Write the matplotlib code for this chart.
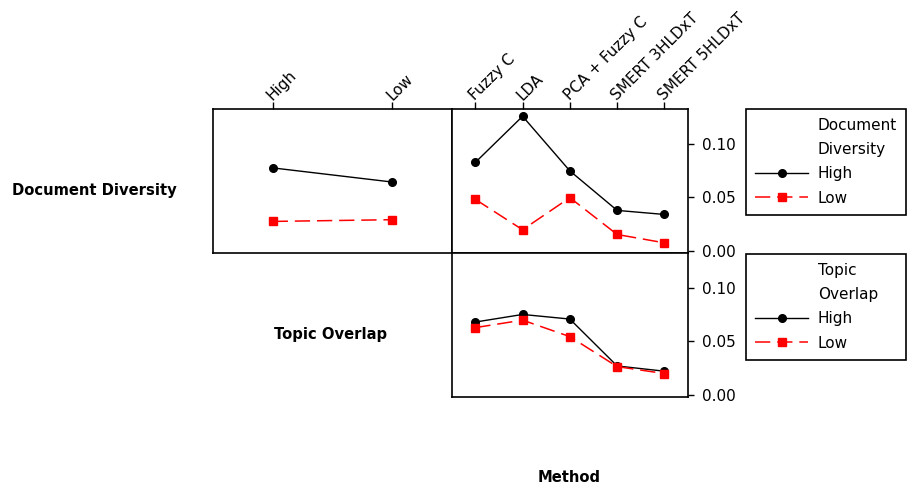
import matplotlib.pyplot as plt
from matplotlib.lines import Line2D

# levels
levels = ["High", "Low"]
methods = ["Fuzzy C", "LDA", "PCA + Fuzzy C", "SMERT 3HLDxT", "SMERT 5HLDxT"]

# top row: lines by Document Diversity
dd_high_vs_level = [0.0775, 0.0643]
dd_low_vs_level = [0.0275, 0.0291]
dd_high_vs_method = [0.0826, 0.1257, 0.0747, 0.0378, 0.0340]
dd_low_vs_method = [0.0481, 0.0197, 0.0497, 0.0153, 0.0075]

# bottom row: lines by Topic Overlap
to_high_vs_method = [0.0680, 0.0751, 0.0708, 0.0270, 0.0221]
to_low_vs_method = [0.0628, 0.0698, 0.0544, 0.0264, 0.0199]

yticks = [0.00, 0.05, 0.10]

W, H = 907, 490
plt.rcParams['font.family'] = ['DejaVu Sans']
plt.rcParams['font.size'] = 11

fig = plt.figure(figsize=(W / 100, H / 100), dpi=100)


def box(x0, y0, x1, y1):
    return [x0 / W, 1 - y1 / H, (x1 - x0) / W, (y1 - y0) / H]


high_style = dict(color="black", lw=1.0, marker="o", ms=5.5, ls="-")
low_style = dict(color="#ff0000", lw=1.1, marker="s", ms=6, ls=(0, (10, 4.5)))

ylim = (-0.002, 0.1325)

ax1 = fig.add_axes(box(213, 109, 451.7, 253))
ax2 = fig.add_axes(box(451.7, 109, 688, 253))
ax3 = fig.add_axes(box(451.7, 253, 688, 397))

ax1.plot(range(len(levels)), dd_high_vs_level, **high_style)
ax1.plot(range(len(levels)), dd_low_vs_level, **low_style)
ax2.plot(range(len(methods)), dd_high_vs_method, **high_style)
ax2.plot(range(len(methods)), dd_low_vs_method, **low_style)
ax3.plot(range(len(methods)), to_high_vs_method, **high_style)
ax3.plot(range(len(methods)), to_low_vs_method, **low_style)

ax1.set_xlim(-0.5, 1.5)
for ax in (ax2, ax3):
    ax.set_xlim(-0.5, 4.5)
for ax in (ax1, ax2, ax3):
    ax.set_ylim(*ylim)
    for s in ax.spines.values():
        s.set_linewidth(1.2)

# top tick labels
ax1.xaxis.tick_top()
ax1.set_xticks(range(len(levels)))
ax1.set_xticklabels(levels, rotation=45, ha="left", va="baseline",
                    rotation_mode="anchor")
ax2.xaxis.tick_top()
ax2.set_xticks(range(len(methods)))
ax2.set_xticklabels(methods, rotation=45, ha="left", va="baseline",
                    rotation_mode="anchor")
for ax in (ax1, ax2):
    ax.tick_params(axis="x", direction="out", length=5, width=1, pad=1)
ax1.set_yticks([])
ax3.set_xticks([])

for ax in (ax2, ax3):
    ax.yaxis.tick_right()
    ax.set_yticks(yticks)
    ax.set_yticklabels(["%.2f" % v for v in yticks])
    ax.tick_params(axis="y", direction="out", length=4, width=1, pad=6)

# legends
blank = Line2D([], [], color="none")
h = Line2D([], [], **high_style)
l = Line2D([], [], **low_style)
leg_kw = dict(loc="upper left", mode="expand", frameon=True, fancybox=False,
              edgecolor="black", framealpha=1, handlelength=3.5,
              handletextpad=0.6, labelspacing=0.6, borderpad=0.59,
              borderaxespad=0)
leg1 = fig.legend([blank, blank, h, l], ["Document", "Diversity", "High", "Low"],
                  bbox_to_anchor=(746 / W, 1 - 109 / H - 0.01, 160 / W, 0.01),
                  **leg_kw)
leg1.get_frame().set_linewidth(1.2)
leg2 = fig.legend([blank, blank, h, l], ["Topic", "Overlap", "High", "Low"],
                  bbox_to_anchor=(746 / W, 1 - 254 / H - 0.01, 160 / W, 0.01),
                  **leg_kw)
leg2.get_frame().set_linewidth(1.2)

# row / column labels
fig.text(12 / W, 1 - 190 / H, "Document Diversity", fontweight="bold",
         fontsize=10.6, ha="left", va="center")
fig.text(331 / W, 1 - 335 / H, "Topic Overlap", fontweight="bold",
         fontsize=10.6, ha="center", va="center")
fig.text(569 / W, 1 - 477 / H, "Method", fontweight="bold",
         fontsize=10.6, ha="center", va="center")

fig.savefig("out.png", dpi=100)
